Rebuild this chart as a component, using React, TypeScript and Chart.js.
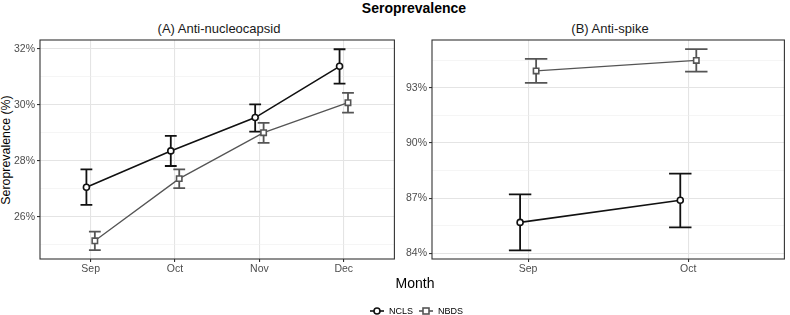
import React, { useEffect, useRef } from "react";
import { Chart, registerables } from "chart.js";

Chart.register(...registerables);

// ---------- data ----------
const ncMonths = ["Sep", "Oct", "Nov", "Dec"];
const ncNCLS = [27.06, 28.36, 29.55, 31.38];
const ncNCLSLow = [26.43, 27.82, 29.05, 30.76];
const ncNCLSHigh = [27.7, 28.9, 30.02, 31.99];
const ncNBDS = [25.15, 27.37, 29.01, 30.08];
const ncNBDSLow = [24.82, 27.03, 28.65, 29.73];
const ncNBDSHigh = [25.48, 27.7, 29.36, 30.43];
const ncMajorTicks = [26, 28, 30, 32];
const ncMinorTicks = [25, 27, 29, 31];

const spMonths = ["Sep", "Oct"];
const spNCLS = [85.68, 86.88];
const spNCLSLow = [84.16, 85.41];
const spNCLSHigh = [87.2, 88.33];
const spNBDS = [93.91, 94.48];
const spNBDSLow = [93.26, 93.87];
const spNBDSHigh = [94.56, 95.09];
const spMajorTicks = [84, 87, 90, 93];
const spMinorTicks = [85.5, 88.5, 91.5, 94.5];

// ---------- styling ----------
const FONT = "'Liberation Sans', Arial, Helvetica, sans-serif";
const NCLS_COLOR = "#111111";
const NBDS_COLOR = "#555555";
const DODGE = 0.05;
const CAP_HALF = 0.07;

type Series = {
  label: string;
  color: string;
  values: number[];
  low: number[];
  high: number[];
  shape: string;
  radius: number;
  offset: number;
  lineWidth: number;
};

const errorBarPlugin = {
  id: "errorBars",
  beforeDatasetsDraw(chart: any) {
    const ctx = chart.ctx;
    const xs = chart.scales.x;
    const ys = chart.scales.y;
    const capPx = Math.abs(xs.getPixelForValue(CAP_HALF) - xs.getPixelForValue(0));
    chart.data.datasets.forEach((ds: any, i: number) => {
      const meta = chart.getDatasetMeta(i);
      ctx.save();
      ctx.strokeStyle = ds.borderColor;
      ctx.lineWidth = 1.8;
      meta.data.forEach((pt: any, j: number) => {
        const x = pt.x;
        const yl = ys.getPixelForValue(ds.low[j]);
        const yh = ys.getPixelForValue(ds.high[j]);
        ctx.beginPath();
        ctx.moveTo(x, yl);
        ctx.lineTo(x, yh);
        ctx.moveTo(x - capPx, yl);
        ctx.lineTo(x + capPx, yl);
        ctx.moveTo(x - capPx, yh);
        ctx.lineTo(x + capPx, yh);
        ctx.stroke();
      });
      ctx.restore();
    });
  },
  afterDraw(chart: any) {
    const { left, top, right, bottom } = chart.chartArea;
    const ctx = chart.ctx;
    ctx.save();
    ctx.strokeStyle = "#333333";
    ctx.lineWidth = 1.1;
    ctx.strokeRect(left, top, right - left, bottom - top);
    ctx.restore();
  },
};

function Panel(props: {
  months: string[];
  series: Series[];
  yMin: number;
  yMax: number;
  majors: number[];
  minors: number[];
  yAxisWidth: number;
  left: number;
}) {
  const ref = useRef<HTMLCanvasElement | null>(null);
  useEffect(() => {
    if (!ref.current) return;
    const { months, series, yMin, yMax, majors, minors, yAxisWidth } = props;
    const majorSet = new Set(majors);
    const chart = new Chart(ref.current, {
      type: "line",
      data: {
        datasets: series.map((s) => ({
          label: s.label,
          data: s.values.map((v, i) => ({ x: i + 1 + s.offset, y: v })),
          low: s.low,
          high: s.high,
          borderColor: s.color,
          backgroundColor: "#ffffff",
          borderWidth: s.lineWidth,
          pointStyle: s.shape,
          pointRadius: s.radius,
          pointBorderWidth: 1.6,
          pointBorderColor: s.color,
          pointBackgroundColor: "#ffffff",
          tension: 0,
        })) as any,
      },
      options: {
        animation: false,
        responsive: false,
        maintainAspectRatio: false,
        layout: { padding: { top: 40, right: 2, left: 0, bottom: 0 } },
        plugins: { legend: { display: false }, tooltip: { enabled: false }, title: { display: false } },
        scales: {
          x: {
            type: "linear",
            min: 0.4,
            max: months.length + 0.6,
            afterBuildTicks: (scale: any) => {
              scale.ticks = months.map((_, i) => ({ value: i + 1 }));
            },
            afterFit: (scale: any) => {
              scale.height = 21;
            },
            ticks: {
              callback: (v: any) => months[Math.round(Number(v)) - 1] ?? "",
              color: "#4d4d4d",
              font: { family: FONT, size: 10.5 },
              padding: 1,
              maxRotation: 0,
              autoSkip: false,
            },
            grid: { color: "#e4e4e4", lineWidth: 1.1, tickLength: 3, tickColor: "#333333" },
            border: { display: false },
          },
          y: {
            type: "linear",
            min: yMin,
            max: yMax,
            afterBuildTicks: (scale: any) => {
              scale.ticks = [...minors, ...majors].sort((a, b) => a - b).map((v) => ({ value: v }));
            },
            afterFit: (scale: any) => {
              scale.width = yAxisWidth;
            },
            ticks: {
              callback: (v: any) => (majorSet.has(Number(v)) ? `${v}%` : ""),
              color: "#4d4d4d",
              font: { family: FONT, size: 10.5 },
              padding: 2,
              autoSkip: false,
            },
            grid: {
              color: (c: any) => (majorSet.has(c.tick?.value) ? "#e4e4e4" : "#efefef"),
              lineWidth: (c: any) => (majorSet.has(c.tick?.value) ? 1.1 : 0.6),
              tickLength: 3,
              tickColor: (c: any) => (majorSet.has(c.tick?.value) ? "#333333" : "rgba(0,0,0,0)"),
            },
            border: { display: false },
          },
        },
      } as any,
      plugins: [errorBarPlugin],
    });
    return () => chart.destroy();
  }, []);
  return (
    <canvas
      ref={ref}
      width={400}
      height={280}
      style={{ position: "absolute", left: props.left, top: 0, width: 400, height: 280 }}
    />
  );
}

function LegendItem({ color, square, label }: { color: string; square: boolean; label: string }) {
  return (
    <div style={{ display: "flex", alignItems: "center", marginRight: 6 }}>
      <svg width={14} height={10} style={{ marginRight: 5 }}>
        <line x1={0} y1={5} x2={14} y2={5} stroke={color} strokeWidth={1.6} />
        {square ? (
          <rect x={4} y={2} width={6} height={6} fill="#fff" stroke={color} strokeWidth={1.6} />
        ) : (
          <circle cx={7} cy={5} r={3} fill="#fff" stroke={color} strokeWidth={1.6} />
        )}
      </svg>
      <span>{label}</span>
    </div>
  );
}

export default function App() {
  const ncSeries: Series[] = [
    { label: "NCLS", color: NCLS_COLOR, values: ncNCLS, low: ncNCLSLow, high: ncNCLSHigh, shape: "circle", radius: 3, offset: -DODGE, lineWidth: 1.6 },
    { label: "NBDS", color: NBDS_COLOR, values: ncNBDS, low: ncNBDSLow, high: ncNBDSHigh, shape: "rect", radius: 3.8, offset: DODGE, lineWidth: 1.3 },
  ];
  const spSeries: Series[] = [
    { label: "NCLS", color: NCLS_COLOR, values: spNCLS, low: spNCLSLow, high: spNCLSHigh, shape: "circle", radius: 3, offset: -DODGE, lineWidth: 1.6 },
    { label: "NBDS", color: NBDS_COLOR, values: spNBDS, low: spNBDSLow, high: spNBDSHigh, shape: "rect", radius: 3.8, offset: DODGE, lineWidth: 1.3 },
  ];
  const text: React.CSSProperties = { position: "absolute", fontFamily: FONT, whiteSpace: "nowrap", color: "#000" };
  return (
    <div style={{ position: "fixed", left: 0, top: 0, width: 790, height: 315, background: "#fff", overflow: "hidden" }}>
      <div style={{ ...text, left: 0, width: 828, top: 0, textAlign: "center", fontWeight: "bold", fontSize: 14, lineHeight: "16px" }}>
        Seroprevalence
      </div>
      <div style={{ ...text, left: 40, width: 358, top: 21, textAlign: "center", fontSize: 13, lineHeight: "16px", color: "#1a1a1a" }}>
        (A) Anti-nucleocapsid
      </div>
      <div style={{ ...text, left: 432, width: 356, top: 21, textAlign: "center", fontSize: 13, lineHeight: "16px", color: "#1a1a1a" }}>
        (B) Anti-spike
      </div>
      <div
        style={{
          ...text,
          left: 0,
          top: 150,
          width: 0,
          height: 0,
        }}
      >
        <div
          style={{
            position: "absolute",
            left: 6,
            top: 0,
            fontSize: 12.4,
            lineHeight: "13px",
            transform: "translate(-50%, -50%) rotate(-90deg)",
          }}
        >
          Seroprevalence (%)
        </div>
      </div>
      <Panel months={ncMonths} series={ncSeries} yMin={24.5} yMax={32.32} majors={ncMajorTicks} minors={ncMinorTicks} yAxisWidth={40} left={0} />
      <Panel months={spMonths} series={spSeries} yMin={83.69} yMax={95.59} majors={spMajorTicks} minors={spMinorTicks} yAxisWidth={42} left={390} />
      <div style={{ ...text, left: 315, width: 200, top: 274, textAlign: "center", fontSize: 14, lineHeight: "18px" }}>
        Month
      </div>
      <div
        style={{
          ...text,
          left: 370,
          top: 305,
          fontSize: 9,
          lineHeight: "12px",
          display: "flex",
          alignItems: "center",
        }}
      >
        <LegendItem color={NCLS_COLOR} square={false} label="NCLS" />
        <LegendItem color={NBDS_COLOR} square={true} label="NBDS" />
      </div>
    </div>
  );
}
